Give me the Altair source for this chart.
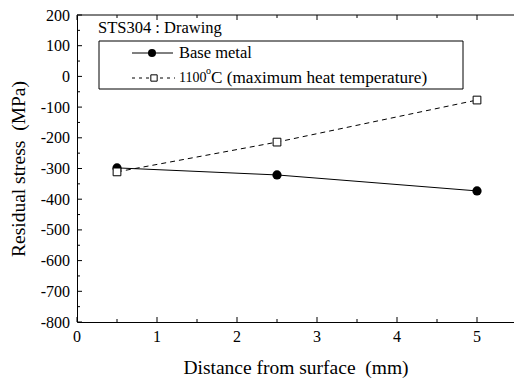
import altair as alt
import pandas as pd

# Measured residual stress vs. depth
distance = [0.5, 2.5, 5.0]
base_metal = [-298, -321, -373]
heated_1100 = [-311, -214, -77]

x_ticks_major = [0, 1, 2, 3, 4, 5]
x_ticks_minor = [0.5, 1.5, 2.5, 3.5, 4.5]
y_ticks_major = [-800, -700, -600, -500, -400, -300, -200, -100, 0, 100, 200]
y_ticks_minor = [-750, -650, -550, -450, -350, -250, -150, -50, 50, 150]

FONT = "Times New Roman, Liberation Serif, serif"
NBSP = "\u00a0"
W, H = 437, 307
X_MAX = W / 80.0  # 80 px per mm

base_df = pd.DataFrame({"d": distance, "s": base_metal})
heat_df = pd.DataFrame({"d": distance, "s": heated_1100})

xs = alt.Scale(domain=[0, X_MAX], nice=False, zero=False)
ys = alt.Scale(domain=[-800, 200], nice=False, zero=False)

axis_style = dict(labels=False, ticks=False, grid=False, domain=True, domainColor="black", domainWidth=1,
                  titleFont=FONT, titleFontSize=19.5, titleFontWeight="normal", titleColor="black")
x_axis = alt.Axis(values=x_ticks_major, title="Distance from surface " + NBSP + "(mm)",
                  titlePadding=36, **axis_style)
y_axis = alt.Axis(values=y_ticks_major, title="Residual stress " + NBSP + "(MPa)",
                  titlePadding=49, **axis_style)

X = alt.X("d:Q", scale=xs, axis=x_axis)
Y = alt.Y("s:Q", scale=ys, axis=y_axis)

base_line = alt.Chart(base_df).mark_line(color="black", strokeWidth=1).encode(x=X, y=Y)
heat_line = alt.Chart(heat_df).mark_line(color="black", strokeWidth=1, strokeDash=[5, 4]).encode(x=X, y=Y)
base_pts = alt.Chart(base_df).mark_point(shape="circle", filled=True, color="black", size=85, opacity=1).encode(x=X, y=Y)
heat_pts = alt.Chart(heat_df).mark_point(shape="square", filled=True, fill="white", stroke="black",
                                          strokeWidth=1, size=60, opacity=1).encode(x=X, y=Y)

# Inward tick marks on bottom, top and left edges
def xtick_layer(vals, length, top):
    df = pd.DataFrame({"d": vals})
    if top:
        enc = dict(y=alt.value(0), y2=alt.value(length))
    else:
        enc = dict(y=alt.value(H), y2=alt.value(H - length))
    return alt.Chart(df).mark_rule(color="black", strokeWidth=1).encode(x=X, **enc)

def ytick_layer(vals, length):
    df = pd.DataFrame({"s": vals})
    return alt.Chart(df).mark_rule(color="black", strokeWidth=1).encode(
        y=Y, x=alt.value(0), x2=alt.value(length))

ticks = [
    xtick_layer(x_ticks_major, 5, False), xtick_layer(x_ticks_minor, 3, False),
    xtick_layer(x_ticks_major, 5, True), xtick_layer(x_ticks_minor, 3, True),
    ytick_layer(y_ticks_major, 5), ytick_layer(y_ticks_minor, 3),
]

# Tick labels, placed through the same scales
xlab_df = pd.DataFrame({"d": x_ticks_major, "t": [str(v) for v in x_ticks_major]})
ylab_df = pd.DataFrame({"s": y_ticks_major, "t": [str(v) for v in y_ticks_major]})
x_labels = alt.Chart(xlab_df).mark_text(font=FONT, fontSize=16, color="black", align="center",
                                        baseline="alphabetic").encode(
    x=X, y=alt.value(H + 20), text="t:N")
y_labels = alt.Chart(ylab_df).mark_text(font=FONT, fontSize=16, color="black", align="right",
                                        baseline="alphabetic", dy=5.5).encode(
    y=Y, x=alt.value(-7), text="t:N")

one = pd.DataFrame({"k": [0]})

# Top frame edge
top_edge = alt.Chart(one).mark_rule(color="black", strokeWidth=1).encode(
    x=alt.value(0), x2=alt.value(W), y=alt.value(0))

# Legend box and entries
LFS = 16.5
def label(text, x, y, size=LFS):
    return alt.Chart(one).mark_text(text=text, font=FONT, fontSize=size, align="left",
                                    baseline="middle", color="black").encode(
        x=alt.value(x), y=alt.value(y))

legend_box = alt.Chart(one).mark_rect(fill="white", stroke="black", strokeWidth=1).encode(
    x=alt.value(22), x2=alt.value(386), y=alt.value(26), y2=alt.value(74))
title_txt = label("STS304 : Drawing", 21, 13)
leg_line1 = alt.Chart(one).mark_rule(color="black", strokeWidth=1).encode(
    x=alt.value(55), x2=alt.value(96), y=alt.value(38))
leg_pt1 = alt.Chart(one).mark_point(shape="circle", filled=True, color="black", size=64, opacity=1).encode(
    x=alt.value(75), y=alt.value(38))
leg_txt1 = label("Base metal", 102, 38)
leg_line2 = alt.Chart(one).mark_rule(color="black", strokeWidth=1, strokeDash=[3, 4]).encode(
    x=alt.value(55), x2=alt.value(98), y=alt.value(63))
leg_pt2 = alt.Chart(one).mark_point(shape="square", filled=True, fill="white", stroke="black",
                                    strokeWidth=1, size=40, opacity=1).encode(x=alt.value(77), y=alt.value(63))
leg_txt2a = label("1100", 102, 63, 14)
leg_sup = label("o", 129, 56, 10)
leg_txt2b = label("C (maximum heat temperature)", 134, 63, 17.2)

chart = alt.layer(
    base_line, heat_line, *ticks, top_edge, x_labels, y_labels,
    legend_box, title_txt, leg_line1, leg_pt1, leg_txt1, leg_line2, leg_pt2, leg_txt2a, leg_sup, leg_txt2b,
    base_pts, heat_pts,
).properties(
    width=W, height=H,
    autosize=alt.AutoSizeParams(type="none"),
    padding={"left": 77, "top": 15, "right": 0, "bottom": 59},
    background="white",
).configure_view(
    stroke=None
).configure_axis(
    **axis_style
)

chart.save("out.html", embed_options={"renderer": "svg", "actions": False})
